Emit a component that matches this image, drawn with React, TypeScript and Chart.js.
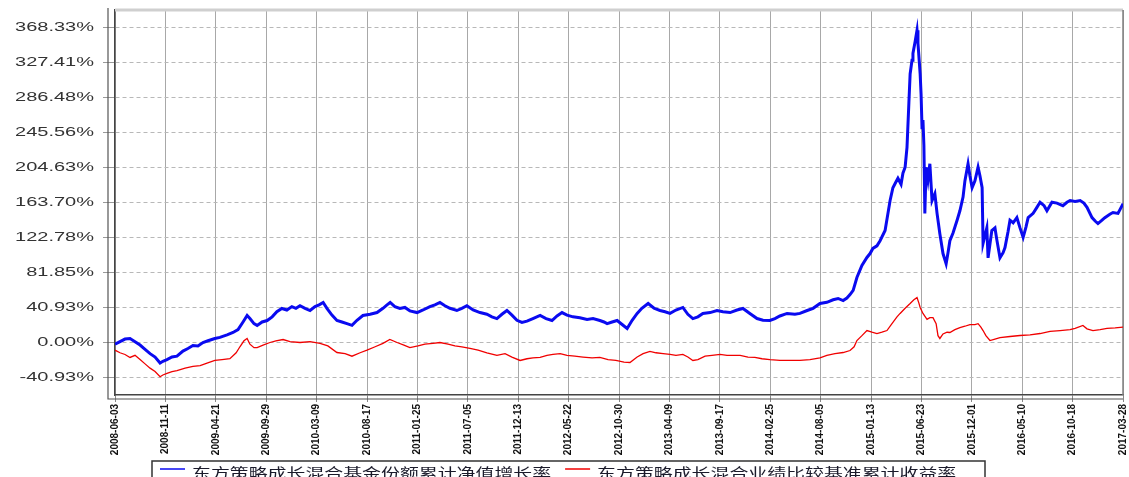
import React, { useEffect, useRef } from 'react';
import { Chart, registerables, LinearScale } from 'chart.js';

Chart.register(...registerables);

// ---------- DATA ----------
const xTickLabels = [
  '2008-06-03', '2008-11-11', '2009-04-21', '2009-09-29', '2010-03-09', '2010-08-17',
  '2011-01-25', '2011-07-05', '2011-12-13', '2012-05-22', '2012-10-30', '2013-04-09',
  '2013-09-17', '2014-02-25', '2014-08-05', '2015-01-13', '2015-06-23', '2015-12-01',
  '2016-05-10', '2016-10-18', '2017-03-28',
];

const yTickValues = [-40.93, 0.0, 40.93, 81.85, 122.78, 163.7, 204.63, 245.56, 286.48, 327.41, 368.33];
const yMin = -61.39;
const yMax = 388.79;

const seriesNames = ['东方策略成长混合基金份额累计净值增长率', '东方策略成长混合业绩比较基准累计收益率'];

// days since 2008-06-03
const fundDays = [
  0, 16, 32, 48, 64, 80, 96, 112, 128, 144, 153, 166, 182, 198, 217, 233, 249, 265, 281, 297,
  319, 335, 358, 377, 393, 409, 422, 431, 444, 454, 470, 486, 502, 517, 533, 549, 565, 578, 591, 607,
  623, 639, 652, 665, 677, 693, 709, 725, 741, 757, 773, 792, 815, 837, 856, 869, 879, 894, 910, 926,
  942, 965, 984, 1006, 1022, 1038, 1054, 1070, 1092, 1108, 1124, 1144, 1166, 1188, 1204, 1220, 1236, 1252, 1268, 1284,
  1300, 1316, 1335, 1358, 1377, 1396, 1412, 1428, 1444, 1463, 1485, 1508, 1527, 1549, 1562, 1572, 1588, 1604, 1620, 1636,
  1652, 1668, 1683, 1703, 1722, 1741, 1757, 1773, 1792, 1814, 1830, 1846, 1862, 1878, 1901, 1923, 1942, 1965, 1987, 2006,
  2028, 2051, 2070, 2092, 2108, 2124, 2147, 2172, 2188, 2211, 2230, 2252, 2274, 2294, 2310, 2326, 2338, 2348, 2358, 2370,
  2386, 2402, 2412, 2421, 2434, 2444, 2460, 2476, 2485, 2495, 2501, 2511, 2517, 2524, 2530, 2536, 2540, 2546, 2549, 2556,
  2562, 2565, 2572, 2575, 2578, 2581, 2584, 2587, 2591, 2597, 2603, 2610, 2619, 2626, 2635, 2645, 2655, 2661, 2667, 2677,
  2690, 2699, 2709, 2715, 2725, 2731, 2738, 2747, 2757, 2763, 2770, 2773, 2779, 2785, 2789, 2795, 2801, 2811, 2817, 2827,
  2837, 2843, 2853, 2859, 2869, 2881, 2891, 2901, 2910, 2917, 2933, 2945, 2955, 2968, 2977, 2993, 3009, 3028, 3041, 3051,
  3067, 3083, 3095, 3105, 3121, 3131, 3140, 3153, 3162, 3178, 3188, 3204, 3217, 3220,
];

const fundValues = [
  -2, 1, 4, 4.7, 1, -3, -8, -13, -17, -24, -22, -20, -17, -16, -10, -7, -3.5, -4, 0, 2,
  4.7, 6, 9, 11.7, 15, 24, 31.6, 28, 22, 20, 24, 25.7, 30, 36, 39.8, 38, 42, 40, 43, 40,
  37.4, 42, 44, 46.8, 40, 32, 25.7, 24, 22, 20, 26, 31.6, 33, 35, 40, 44, 46.8, 42, 39.8, 41,
  37, 35, 38, 42, 44, 46.8, 43, 40, 37.4, 40, 43, 38, 35, 33, 30, 28, 33, 37.4, 32, 26,
  23.4, 25, 28, 31.6, 28, 25.7, 31, 35, 32, 30, 29, 27, 28, 25.7, 24, 22, 24, 25.7, 21, 16.4,
  26, 34, 40, 45.6, 40, 37.4, 36, 34, 38, 41, 33, 28, 30, 34, 35, 37.4, 36, 35, 38, 39.8,
  34, 28, 26, 25.7, 28, 31, 34, 33, 34, 37.4, 40, 45.6, 47, 50, 51.5, 49, 52, 56, 61, 76,
  90, 99.4, 104, 110, 113, 119, 131, 166, 181, 188, 192, 185, 198, 205, 228, 280, 314, 330, 338, 352,
  365, 350, 314, 290, 251, 260, 230, 151, 205, 190, 209, 166, 174, 151, 127, 104, 92, 105, 119, 128,
  143, 154, 170, 189, 209, 195, 181, 189, 205, 195, 181, 116, 125, 134, 99, 115, 131, 134, 120, 99,
  105, 111, 130, 143, 140, 146, 134, 123, 135, 146, 151, 158, 164, 160, 154, 164, 163, 160, 164, 166,
  165, 166, 163, 158, 146, 142, 139, 143, 146, 150, 152, 151, 160, 158,
];

const benchDays = [
  0, 16, 32, 48, 64, 80, 96, 112, 128, 144, 153, 166, 182, 198, 224, 249, 272, 294, 319, 342,
  367, 387, 399, 412, 422, 431, 444, 454, 473, 495, 514, 537, 559, 591, 623, 655, 680, 709, 735, 757,
  783, 805, 831, 856, 878, 901, 923, 942, 968, 990, 1016, 1038, 1064, 1086, 1108, 1134, 1160, 1188, 1220, 1246,
  1268, 1294, 1316, 1335, 1358, 1380, 1399, 1422, 1444, 1469, 1495, 1524, 1549, 1575, 1600, 1626, 1645, 1668, 1687, 1709,
  1728, 1751, 1773, 1792, 1814, 1830, 1846, 1862, 1885, 1907, 1933, 1955, 1974, 1997, 2022, 2044, 2067, 2092, 2124, 2156,
  2188, 2220, 2252, 2274, 2300, 2326, 2348, 2361, 2370, 2386, 2402, 2418, 2434, 2450, 2466, 2482, 2498, 2508, 2524, 2540,
  2552, 2562, 2568, 2572, 2581, 2594, 2603, 2613, 2623, 2629, 2635, 2645, 2658, 2667, 2683, 2699, 2715, 2731, 2747, 2757,
  2766, 2773, 2782, 2795, 2811, 2827, 2859, 2891, 2923, 2955, 2987, 3019, 3051, 3067, 3092, 3105, 3124, 3147, 3169, 3195,
  3220,
];

const benchValues = [
  -9, -12, -14, -17.5, -15, -20, -25, -30, -34, -40, -38, -36, -34, -33, -30, -28, -27, -24, -21, -20,
  -19, -12, -5, 2, 4.7, -2, -6, -6, -3, 0, 2, 3.5, 1, 0, 1, -1, -4, -11.7, -13, -16,
  -12, -9, -5, -1, 3.5, 0, -3, -6, -4, -2, -1, 0, -2, -4, -5, -7, -9, -12, -15, -13,
  -17, -21, -19, -18, -17.5, -15, -14, -13, -15, -16, -17, -18, -17.5, -20, -21, -23, -23.4, -17, -13, -10.5,
  -12, -13, -14, -15, -14, -17, -21, -20, -16, -15, -14, -15, -15, -15, -17, -17.5, -19, -20, -21, -21,
  -21, -20, -18, -15, -13, -11.7, -9.4, -5, 2.3, 8, 14, 12, 10.5, 12, 14, 22, 30, 34, 40, 45.6,
  50, 52.5, 46, 41, 34, 27, 29, 29, 22, 8, 4.7, 10, 12, 11.7, 15, 17.5, 19, 21, 21, 22,
  18, 14, 8, 2.3, 4, 5.8, 7, 8.2, 9, 10.5, 13, 14, 15, 16.4, 20, 16, 14, 15, 16.4, 17,
  18,
];

// ---------- helpers ----------
const dayOf = (s: string) => Math.round((Date.parse(s) - Date.parse(xTickLabels[0])) / 86400000);
const yLabelStretch = 1.6;

class StretchedLinearScale extends LinearScale {
  static id = 'stretchedLinear';
  static defaults = {};
  drawLabels(chartArea: any) {
    const ctx = (this as any).ctx as CanvasRenderingContext2D;
    const opts: any = (this as any).options;
    const anchor = (this as any).right - opts.grid.tickLength - opts.ticks.padding;
    ctx.save();
    ctx.translate(anchor, 0);
    ctx.scale(yLabelStretch, 1);
    ctx.translate(-anchor, 0);
    super.drawLabels(chartArea);
    ctx.restore();
  }
}
Chart.register(StretchedLinearScale as any);

const framePlugin = {
  id: 'frame',
  beforeDatasetsDraw(chart: any) {
    const { ctx, chartArea: a } = chart;
    ctx.save();
    ctx.strokeStyle = '#cfcfcf';
    ctx.lineWidth = 3;
    ctx.beginPath();
    ctx.moveTo(a.left, a.top);
    ctx.lineTo(a.right, a.top);
    ctx.stroke();
    ctx.strokeStyle = '#808080';
    ctx.lineWidth = 1.5;
    ctx.beginPath();
    ctx.moveTo(a.right, a.top);
    ctx.lineTo(a.right, a.bottom);
    ctx.stroke();
    ctx.strokeStyle = '#555';
    ctx.lineWidth = 1.2;
    ctx.beginPath();
    ctx.moveTo(a.left - 7, a.top - 2);
    ctx.lineTo(a.left - 7, a.bottom + 4);
    ctx.lineTo(a.right, a.bottom + 4);
    ctx.stroke();
    ctx.restore();
  },
};

const legendPlugin = {
  id: 'boxLegend',
  afterDraw(chart: any) {
    const ctx: CanvasRenderingContext2D = chart.ctx;
    const boxLeft = 152;
    const boxRight = 985;
    const boxTop = 461;
    const boxBottom = 480;
    ctx.save();
    ctx.fillStyle = '#fff';
    ctx.fillRect(boxLeft, boxTop, boxRight - boxLeft, boxBottom - boxTop);
    ctx.strokeStyle = '#333';
    ctx.lineWidth = 1.5;
    ctx.strokeRect(boxLeft, boxTop, boxRight - boxLeft, boxBottom - boxTop);
    const sx = 1.4;
    ctx.font = '13.5px "Noto Sans CJK SC", sans-serif';
    ctx.textBaseline = 'middle';
    let x = boxLeft + 8;
    chart.data.datasets.forEach((ds: any) => {
      ctx.strokeStyle = ds.borderColor;
      ctx.lineWidth = 1.5;
      ctx.beginPath();
      ctx.moveTo(x, 469);
      ctx.lineTo(x + 25, 469);
      ctx.stroke();
      x += 32;
      const w = ctx.measureText(ds.label).width * sx;
      ctx.save();
      ctx.translate(x, 473);
      ctx.scale(sx, 1);
      ctx.fillStyle = '#1a1a2a';
      ctx.fillText(ds.label, 0, 0);
      ctx.restore();
      x += w + 14;
    });
    ctx.restore();
  },
};

export default function App() {
  const canvasRef = useRef<HTMLCanvasElement | null>(null);

  useEffect(() => {
    document.body.style.margin = '0';
    const canvas = canvasRef.current;
    if (!canvas) return;
    const xTickMap = new Map<number, string>();
    xTickLabels.forEach((s) => xTickMap.set(dayOf(s), s));

    const chart = new Chart(canvas, {
      type: 'line',
      data: {
        datasets: [
          {
            label: seriesNames[0],
            data: fundDays.map((d, i) => ({ x: d, y: fundValues[i] })),
            borderColor: 'rgb(10,10,240)',
            borderWidth: 3,
            pointRadius: 0,
            tension: 0,
          },
          {
            label: seriesNames[1],
            data: benchDays.map((d, i) => ({ x: d, y: benchValues[i] })),
            borderColor: 'rgb(240,0,0)',
            borderWidth: 1.3,
            pointRadius: 0,
            tension: 0,
          },
        ],
      },
      options: {
        animation: false,
        responsive: false,
        devicePixelRatio: 1,
        layout: { padding: { left: 0, top: 10, right: 6, bottom: 0 } },
        plugins: {
          legend: { display: false },
          tooltip: { enabled: false },
          title: { display: false },
        },
        scales: {
          x: {
            type: 'linear',
            min: dayOf(xTickLabels[0]),
            max: dayOf(xTickLabels[xTickLabels.length - 1]),
            afterBuildTicks: (scale: any) => {
              scale.ticks = xTickLabels.map((s) => ({ value: dayOf(s) }));
            },
            afterFit: (scale: any) => {
              scale.height = 82;
              scale.paddingLeft = 0;
              scale.paddingRight = 0;
            },
            ticks: {
              autoSkip: false,
              minRotation: 90,
              maxRotation: 90,
              padding: 2,
              color: '#111',
              font: { family: '"Liberation Sans", Arial, sans-serif', size: 10, weight: 'bold' },
              callback: (v: any) => xTickMap.get(Math.round(Number(v))) ?? '',
            },
            grid: {
              color: '#a8a8a8',
              lineWidth: 1,
              tickLength: 7,
              tickColor: '#888',
            },
            border: { display: true, color: '#444', width: 1.5 },
          },
          y: {
            type: 'stretchedLinear' as any,
            min: yMin,
            max: yMax,
            afterBuildTicks: (scale: any) => {
              scale.ticks = yTickValues.map((v) => ({ value: v }));
            },
            afterFit: (scale: any) => {
              scale.width = 115;
              scale.paddingTop = 0;
              scale.paddingBottom = 0;
            },
            ticks: {
              padding: 9,
              color: '#333',
              font: { family: '"Liberation Sans", Arial, sans-serif', size: 12.5 },
              callback: (v: any) => Number(v).toFixed(2) + '%',
            },
            grid: {
              color: '#b8b8b8',
              lineWidth: 1,
              tickLength: 12,
              tickColor: '#999',
            },
            border: { display: true, color: '#444', width: 1.5, dash: [4, 3] },
          },
        },
      } as any,
      plugins: [framePlugin, legendPlugin],
    });
    return () => chart.destroy();
  }, []);

  return (
    <div style={{ width: 1129, height: 477, background: '#fff' }}>
      <canvas ref={canvasRef} width={1129} height={477} style={{ display: 'block' }} />
    </div>
  );
}
